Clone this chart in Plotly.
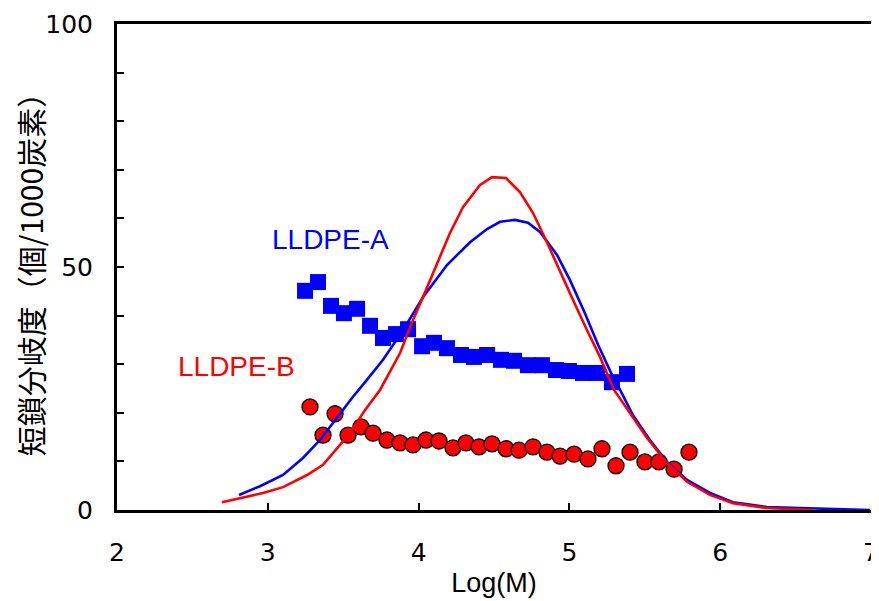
import plotly.graph_objects as go

# Short-chain branching (squares / circles)
a_logm = [3.247, 3.333, 3.419, 3.505, 3.592, 3.678, 3.764, 3.850, 3.930, 4.023, 4.102, 4.188,
          4.281, 4.367, 4.454, 4.546, 4.633, 4.725, 4.818, 4.911, 4.997, 5.090, 5.183, 5.282, 5.382]
a_scb = [45.1, 46.9, 42.0, 40.5, 41.4, 37.9, 35.4, 36.2, 37.2, 33.7, 34.4, 33.3,
         31.9, 31.5, 31.9, 30.9, 30.7, 29.8, 29.8, 28.8, 28.6, 28.2, 28.2, 26.3, 28.0]

b_logm = [3.280, 3.366, 3.446, 3.532, 3.618, 3.698, 3.790, 3.877, 3.963, 4.049, 4.135, 4.228,
          4.314, 4.401, 4.487, 4.580, 4.666, 4.759, 4.851, 4.938, 5.031, 5.123, 5.216, 5.309,
          5.402, 5.501, 5.594, 5.694, 5.793]
b_scb = [21.2, 15.4, 19.8, 15.4, 17.1, 15.8, 14.4, 13.8, 13.4, 14.4, 14.2, 12.8,
         13.8, 13.0, 13.6, 12.6, 12.3, 13.0, 11.9, 11.1, 11.5, 10.5, 12.6, 9.1,
         11.9, 9.9, 9.9, 8.4, 11.9]

# Molecular weight distribution curves
a_curve_x = [2.809, 2.948, 3.101, 3.233, 3.346, 3.459, 3.565, 3.645, 3.764, 3.897, 4.029, 4.188,
             4.341, 4.454, 4.540, 4.639, 4.725, 4.805, 4.918, 5.004, 5.103, 5.190, 5.282, 5.336,
             5.422, 5.534, 5.647, 5.780, 5.932, 6.085, 6.310, 6.529, 6.748, 6.993]
a_curve_y = [3.1, 4.9, 7.2, 10.7, 14.4, 19.1, 23.3, 26.3, 30.9, 37.0, 43.8, 50.4,
             55.1, 57.8, 59.3, 59.7, 59.1, 57.2, 52.5, 47.3, 40.5, 34.0, 27.8, 24.7,
             19.5, 14.4, 9.9, 6.2, 3.5, 1.6, 0.6, 0.4, 0.2, 0.0]

b_curve_x = [2.696, 2.836, 2.968, 3.101, 3.260, 3.366, 3.459, 3.545, 3.645, 3.744, 3.877, 3.963,
             4.029, 4.122, 4.208, 4.294, 4.407, 4.487, 4.580, 4.672, 4.759, 4.851, 4.938, 5.024,
             5.117, 5.203, 5.296, 5.402, 5.515, 5.647, 5.780, 5.932, 6.085, 6.310, 6.609]
b_curve_y = [1.6, 2.5, 3.5, 4.7, 7.2, 9.3, 12.8, 15.8, 20.6, 24.7, 32.3, 39.1,
             43.8, 50.8, 57.0, 62.3, 66.9, 68.5, 68.3, 65.4, 61.1, 55.1, 49.0, 43.2,
             37.0, 31.5, 24.7, 20.0, 14.8, 9.7, 5.8, 3.1, 1.4, 0.4, 0.0]

BLUE = "#0000FF"
RED = "#FF0000"
CJK = "Noto Sans CJK JP"
LAT = "Liberation Sans"
NUM = "DejaVu Sans"

fig = go.Figure()
fig.add_trace(go.Scatter(x=a_logm, y=a_scb, mode="markers", name="LLDPE-A",
                         marker=dict(symbol="square", size=16, color=BLUE, line=dict(width=0))))
fig.add_trace(go.Scatter(x=b_logm, y=b_scb, mode="markers", name="LLDPE-B",
                         marker=dict(symbol="circle", size=16, color=RED, line=dict(width=1.3, color="black"))))
fig.add_trace(go.Scatter(x=a_curve_x, y=a_curve_y, mode="lines", line=dict(color=BLUE, width=2.6)))
fig.add_trace(go.Scatter(x=b_curve_x, y=b_curve_y, mode="lines", line=dict(color=RED, width=2.6)))

fig.add_annotation(x=3.419, y=55.6, text="LLDPE-A", showarrow=False,
                   font=dict(family=LAT, size=28, color=BLUE))
fig.add_annotation(x=2.792, y=29.6, text="LLDPE-B", showarrow=False,
                   font=dict(family=LAT, size=28, color=RED))

# The page body adds an 8px margin on the left and top, so the figure is sized to fit.
fig.update_layout(
    width=871, height=593,
    margin=dict(l=109, r=8, t=16, b=91),
    paper_bgcolor="white", plot_bgcolor="white",
    showlegend=False,
    font=dict(family=CJK, size=20, color="black"),
)
fig.update_xaxes(range=[2, 7], dtick=1, tick0=2, ticks="inside", ticklen=7, tickwidth=2,
                 tickcolor="black", showline=True, linecolor="black", linewidth=3, mirror=True,
                 showgrid=False, zeroline=False, ticklabelstandoff=18, automargin=False,
                 tickfont=dict(family=NUM, size=25),
                 title=dict(text="Log(M)", standoff=8, font=dict(family=LAT, size=27)))
fig.update_yaxes(range=[0, 100], dtick=50, tick0=0, ticks="inside", ticklen=7, tickwidth=2,
                 tickcolor="black", showline=True, linecolor="black", linewidth=3, mirror=True,
                 showgrid=False, zeroline=False, ticklabelstandoff=16, automargin=False,
                 tickfont=dict(family=NUM, size=25),
                 minor=dict(dtick=10, ticks="inside", ticklen=7, tickwidth=2, tickcolor="black", showgrid=False),
                 title=dict(text="短鎖分岐度（個/1000炭素）", standoff=10, font=dict(family=CJK, size=30)))

fig.write_html("out.html")
